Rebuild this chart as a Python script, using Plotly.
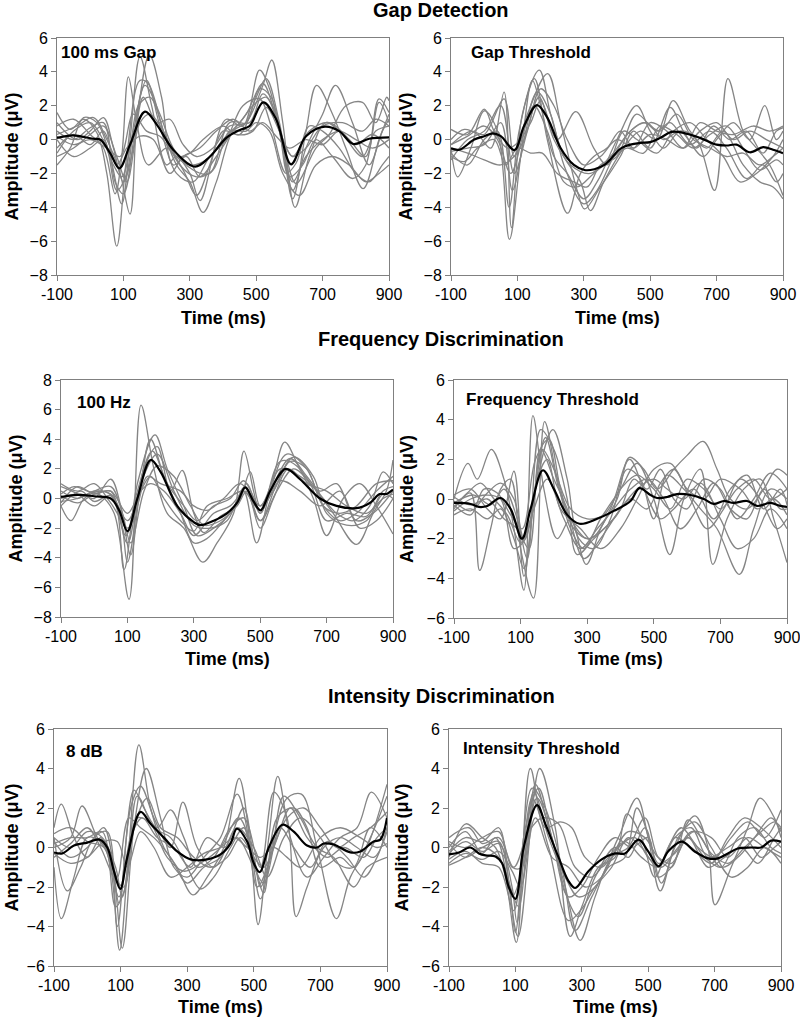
import plotly.graph_objects as go

# ---------------- DATA ----------------
TIME_TICKS = [-100, 100, 300, 500, 700, 900]

# Panel 1: Gap Detection, 100 ms Gap
gap100_mean_t = [-100, -52, 8, 30, 60, 88, 120, 165, 200, 250, 316, 361, 410, 451, 480, 521, 560, 605, 650, 707, 750, 792, 840, 900]
gap100_mean_v = [0.1, 0.25, 0.05, 0.0, -0.8, -1.7, -0.3, 1.65, 0.9, -0.6, -1.6, -1.0, 0.1, 0.57, 0.8, 2.2, 1.2, -1.46, 0.2, 0.76, 0.5, -0.26, 0.05, 0.13]
gap100_grey_t = [
    [-100, -60, -20, 20, 50, 80, 110, 150, 175, 220, 260, 300, 340, 380, 430, 470, 520, 547, 580, 617, 660, 710, 760, 820, 860, 900],
    [-100, -50, 0, 40, 75, 95, 115, 140, 175, 230, 280, 320, 360, 410, 460, 510, 540, 580, 610, 650, 682, 730, 770, 822, 870, 900],
    [-100, -60, -20, 20, 60, 95, 120, 150, 185, 230, 260, 300, 331, 400, 450, 500, 530, 570, 610, 650, 700, 739, 790, 840, 880, 900],
    [-100, -50, 0, 40, 75, 100, 135, 178, 215, 250, 290, 330, 380, 430, 470, 520, 550, 590, 620, 680, 720, 770, 820, 860, 893, 900],
    [-100, -50, 0, 30, 70, 95, 130, 165, 210, 250, 310, 360, 420, 480, 520, 560, 600, 640, 680, 730, 790, 830, 870, 900],
    [-100, -40, 10, 50, 90, 120, 145, 170, 210, 260, 310, 360, 410, 460, 510, 545, 590, 620, 660, 700, 750, 800, 840, 880, 900],
    [-100, -50, 0, 50, 90, 130, 170, 210, 260, 300, 340, 400, 440, 490, 530, 570, 610, 650, 700, 760, 820, 860, 900],
    [-100, -50, 0, 40, 80, 110, 150, 190, 240, 280, 330, 380, 430, 480, 520, 560, 600, 650, 700, 750, 800, 850, 900],
    [-100, -40, 0, 40, 70, 100, 130, 160, 200, 240, 280, 320, 370, 420, 470, 510, 545, 580, 610, 660, 720, 780, 830, 870, 900],
    [-100, -50, 0, 40, 80, 110, 145, 180, 230, 270, 320, 370, 420, 470, 500, 540, 580, 630, 680, 730, 780, 830, 870, 900],
    [-100, -50, 0, 40, 80, 110, 150, 180, 220, 260, 300, 350, 400, 450, 490, 530, 570, 610, 650, 700, 750, 800, 850, 900],
]
gap100_grey_v = [
    [1.6, 0.6, 1.2, 0.4, -2.0, -6.3, -1.0, 3.5, 3.3, 0.5, -1.5, -2.5, -4.3, -2.5, 0.5, 1.0, 3.2, 4.7, 1.0, -4.0, -1.0, 1.0, 0.3, -1.0, 0.5, 0.8],
    [0.8, 1.2, 0.3, -0.5, -3.2, -1.0, 3.7, 1.0, -1.5, -0.5, -1.8, -3.3, -1.5, 1.2, 0.8, 4.1, 3.0, -0.5, -3.5, 0.5, 3.2, 1.5, -0.5, -2.9, 0.0, 1.5],
    [-1.5, -0.5, 1.3, 1.0, -1.0, -3.8, 0.0, 4.9, 2.0, -1.5, -1.0, -2.0, -3.6, 0.5, 0.3, 2.5, 3.6, 1.0, -3.0, -0.5, 1.5, 3.2, 1.0, -1.5, 0.5, 1.2],
    [0.5, 0.0, 0.7, 1.0, -2.5, -3.2, 0.5, 5.0, 2.5, -1.5, -1.0, -2.2, -1.0, 0.5, 1.5, 3.3, 2.0, -1.0, -2.6, -0.5, 0.3, 2.0, 2.2, 1.0, 2.5, 2.3],
    [-0.8, 0.5, 1.0, 0.3, -1.5, -2.2, 0.5, 3.2, 1.5, -0.5, -1.8, -2.0, 1.0, 1.0, 2.7, 1.5, -2.2, -1.5, 0.0, -1.0, -2.3, -1.5, 2.4, 1.6],
    [0.3, 0.8, 1.3, 0.0, -2.0, -4.4, 2.0, 3.5, 0.8, -2.0, -2.5, -1.0, 0.0, 2.0, 2.4, 0.8, -2.0, -1.4, 0.8, 0.5, -0.5, -2.0, -2.5, -1.5, -1.0],
    [0.2, -0.3, 0.0, -0.5, -1.0, 1.5, 0.5, 0.2, -1.0, -0.8, 0.0, 0.8, 0.3, 0.5, 1.9, 0.5, -1.0, -0.5, 0.8, 1.0, 0.5, 1.2, 0.8],
    [-0.5, 0.3, -0.3, 0.5, -1.5, -0.5, 0.2, 0.0, -2.0, -1.0, -0.5, 0.5, 1.2, 0.5, 1.0, 0.2, -0.5, 0.0, -0.3, 0.5, -0.3, 0.3, -0.5],
    [1.0, 0.0, 0.5, 1.3, -0.5, -2.5, -0.5, 2.5, 1.0, 1.2, -0.3, -1.0, -0.5, 0.8, 1.0, 3.0, 2.5, 0.0, -1.0, 0.5, 1.0, 0.0, -1.0, 2.2, 1.0],
    [0.0, -1.0, -0.5, 0.0, -3.0, -2.0, 2.0, 2.5, 0.0, -1.5, -2.2, -1.8, 0.5, 0.5, 1.0, 0.5, -2.0, -3.3, -1.5, -1.0, -1.5, -2.5, -2.0, -1.5],
    [-1.0, -0.5, 0.3, 0.8, -1.0, -2.5, 1.0, 1.5, 0.5, -1.0, -1.5, -1.2, 0.0, 1.0, 2.0, 2.5, 0.5, -2.5, -1.0, 0.0, 0.5, 0.0, -0.5, 0.0],
]

# Panel 2: Gap Detection, Gap Threshold
gapthr_mean_t = [-100, -75, -30, 0, 26, 50, 91, 120, 159, 190, 230, 270, 302, 332, 362, 412, 440, 470, 500, 530, 564, 600, 650, 700, 730, 760, 800, 840, 870, 900]
gapthr_mean_v = [-0.52, -0.6, 0.0, 0.2, 0.37, 0.2, -0.62, 0.8, 2.04, 1.3, -0.5, -1.5, -1.8, -1.75, -1.5, -0.52, -0.3, -0.2, -0.15, 0.1, 0.45, 0.4, 0.1, -0.3, -0.35, -0.3, -0.75, -0.45, -0.6, -0.8]
gapthr_grey_t = [
    [-100, -80, -40, 0, 40, 76, 110, 145, 170, 210, 250, 300, 340, 400, 459, 500, 540, 590, 640, 694, 734, 780, 820, 860, 900],
    [-100, -60, -20, 20, 60, 82, 115, 166, 200, 240, 290, 320, 360, 420, 470, 520, 569, 620, 670, 720, 780, 830, 870, 900],
    [-100, -50, 0, 40, 75, 105, 151, 190, 251, 290, 330, 370, 410, 450, 500, 550, 600, 650, 700, 750, 800, 850, 900],
    [-100, -40, 0, 60, 90, 130, 191, 230, 280, 302, 350, 410, 450, 500, 560, 600, 660, 700, 750, 800, 845, 880, 900],
    [-100, -50, 0, 30, 70, 100, 140, 170, 220, 276, 330, 370, 420, 460, 520, 570, 620, 670, 720, 770, 820, 870, 900],
    [-100, -50, 0, 50, 90, 120, 165, 210, 260, 320, 380, 440, 480, 530, 580, 630, 680, 730, 780, 830, 870, 900],
    [-100, -60, -20, 30, 65, 100, 140, 175, 220, 270, 310, 350, 400, 459, 520, 560, 620, 680, 730, 790, 840, 880, 900],
    [-100, -50, 0, 50, 90, 130, 170, 210, 250, 300, 350, 400, 450, 500, 550, 600, 650, 700, 750, 810, 860, 900],
    [-100, -50, 0, 40, 80, 120, 160, 200, 240, 300, 340, 390, 440, 490, 540, 590, 640, 690, 740, 790, 840, 880, 900],
    [-100, -50, 0, 50, 85, 120, 150, 190, 240, 280, 330, 380, 430, 480, 530, 580, 630, 680, 730, 780, 830, 880, 900],
]
gapthr_grey_v = [
    [-0.5, -2.2, -0.5, 1.7, 0.5, -5.9, -1.0, 3.5, 2.0, -1.0, -2.0, -3.5, -2.5, 0.0, 2.0, 0.5, -0.5, 0.5, 0.0, -3.0, 3.6, 0.5, -0.5, -1.5, -3.3],
    [0.0, 0.6, 0.3, -0.5, 2.8, -5.2, 1.5, 4.1, 1.5, -1.0, -2.5, -4.2, -2.5, -0.5, 0.5, 0.0, 2.3, 0.5, -0.5, 0.5, -1.5, -2.5, -2.8, -3.5],
    [-0.8, -1.5, 0.0, 0.5, -4.0, 0.5, 3.6, 0.0, -4.35, -2.0, -1.0, -0.5, 0.5, -0.5, 1.0, 0.5, -0.5, 0.5, 1.0, 0.0, 0.5, 0.0, -0.5],
    [-0.3, 0.5, 0.3, 2.4, -1.0, 1.5, 3.9, 1.0, -3.0, -4.1, -2.8, -1.0, 0.5, -0.5, 1.9, 0.5, -1.0, 0.0, 1.0, 0.0, 2.0, 0.0, 0.5],
    [0.6, 0.3, 1.8, 0.5, -0.5, -0.2, 1.0, 2.3, 0.0, 1.65, -0.5, -1.5, 0.5, 0.0, -0.8, 0.5, 1.0, 0.0, -1.0, -2.5, -2.0, -1.0, 0.0],
    [-0.5, -0.8, -1.2, -1.5, -1.0, 0.0, 2.5, 0.0, -1.5, -2.0, -1.0, 0.5, 1.0, 0.5, 1.5, 0.0, -0.5, -1.0, -0.8, -1.5, -1.0, -0.5],
    [-1.0, -1.3, -0.5, 0.0, -1.5, -0.5, -0.8, -0.8, -2.0, -2.5, -2.8, -1.5, -1.0, 1.5, 0.5, 1.0, -0.3, 0.5, -0.5, -2.3, -1.5, -2.5, -2.0],
    [-1.2, 0.0, 0.5, 2.0, -2.0, 0.5, 3.0, 2.0, 0.0, -1.5, -1.0, 0.0, -0.5, 0.3, 0.0, -0.5, 1.0, 0.5, 0.3, 0.8, 0.5, 0.8],
    [-0.3, 0.2, 0.8, 0.0, -2.0, 0.5, 2.8, 1.5, -1.5, -3.8, -3.0, -1.0, 0.5, 1.0, 0.0, 0.5, -0.5, 0.8, 0.0, 0.5, -0.8, 0.5, 0.7],
    [-0.7, -0.5, -0.3, 1.0, -3.0, 0.0, 2.0, 0.5, -2.5, -2.8, -2.0, -1.2, -0.5, -0.8, 0.8, 0.3, -0.5, 0.3, 0.8, -0.5, -1.8, -1.2, -1.5],
]

# Panel 3: Frequency Discrimination, 100 Hz
f100_mean_t = [-100, -50, 0, 50, 75, 100, 130, 170, 200, 250, 300, 320, 360, 400, 430, 455, 480, 501, 530, 577, 620, 680, 730, 790, 830, 860, 880, 900]
f100_mean_v = [0.1, 0.25, 0.15, 0.0, -0.8, -2.2, 0.0, 2.6, 1.8, -0.5, -1.6, -1.8, -1.5, -1.0, -0.3, 0.75, -0.2, -0.8, 0.5, 2.0, 1.3, 0.0, -0.5, -0.65, -0.3, 0.3, 0.3, 0.6]
f100_grey_t = [
    [-100, -60, -20, 20, 60, 105, 141, 180, 220, 270, 327, 370, 420, 451, 480, 500, 540, 574, 620, 670, 720, 790, 840, 880, 900],
    [-100, -70, -30, 20, 60, 90, 130, 183, 220, 270, 310, 360, 410, 450, 489, 530, 580, 640, 690, 740, 790, 850, 900],
    [-100, -50, 0, 40, 80, 100, 140, 170, 210, 260, 300, 340, 390, 440, 470, 500, 540, 590, 640, 690, 730, 780, 830, 870, 900],
    [-100, -40, 0, 50, 80, 110, 150, 190, 230, 265, 300, 330, 380, 430, 460, 500, 560, 610, 660, 700, 750, 800, 850, 900],
    [-100, -50, 0, 50, 95, 130, 175, 220, 270, 310, 360, 410, 450, 500, 560, 620, 680, 730, 790, 840, 900],
    [-100, -50, 0, 50, 100, 140, 170, 210, 260, 300, 340, 400, 450, 500, 560, 620, 680, 740, 800, 850, 900],
    [-100, -50, 0, 50, 100, 140, 170, 210, 260, 300, 360, 410, 455, 500, 550, 600, 650, 700, 760, 820, 870, 900],
    [-100, -40, 0, 50, 100, 130, 160, 200, 260, 300, 340, 390, 440, 500, 540, 590, 640, 690, 740, 790, 850, 900],
    [-100, -50, 0, 50, 100, 140, 190, 240, 300, 350, 400, 455, 500, 550, 600, 660, 700, 760, 820, 870, 900],
    [-100, -50, 0, 50, 85, 110, 150, 190, 240, 290, 330, 380, 430, 460, 500, 540, 585, 640, 700, 760, 820, 870, 900],
]
f100_grey_v = [
    [0.3, 0.8, 0.5, 0.2, -1.0, -6.8, 6.3, 2.0, -1.0, -2.0, -4.3, -3.0, -1.0, 3.2, 0.5, -1.0, 1.5, 3.8, 2.0, 0.5, -1.0, -3.1, -1.0, 0.5, 2.6],
    [-0.5, -1.5, 0.0, 0.5, 0.0, -4.8, 1.0, 4.3, 2.0, -0.5, -2.5, -2.0, -1.0, 0.5, -3.0, 0.5, 3.0, 2.0, -0.5, -1.5, -1.0, 0.5, 1.5],
    [1.0, 0.5, 1.0, 0.0, -1.5, -4.3, 1.0, 4.0, 1.5, -1.0, -3.0, -2.7, -1.5, 0.0, 1.8, -0.5, 1.0, 2.7, 1.5, 0.0, -1.0, -1.5, -0.5, 1.8, 1.0],
    [0.0, 0.3, 0.0, 1.3, -0.5, -3.8, 2.0, 3.5, 0.5, 1.9, -1.0, -2.3, -1.2, -0.5, 1.0, -1.0, 2.5, 2.2, 0.0, -2.5, 0.0, 1.0, -0.5, -2.4],
    [-0.3, 0.8, 0.3, 0.5, -2.5, 0.5, 3.2, 1.0, -0.5, -1.5, -0.5, 0.0, 1.2, -0.5, 2.0, 1.5, 0.5, 1.0, -1.5, -1.0, 0.5],
    [0.5, 0.0, 0.5, 0.3, -1.5, 0.5, 1.5, 0.0, -1.5, -2.2, -0.5, 0.0, 0.5, -0.8, 1.2, 0.5, -0.5, 0.5, -2.0, -1.5, 0.0],
    [0.2, -0.3, 0.3, 0.5, -1.0, 0.5, 1.0, 0.5, -1.0, -2.5, -1.0, -0.5, 0.5, -1.5, 0.5, 2.0, 1.0, -1.5, -1.0, -1.2, 0.5, 0.8],
    [-0.5, 0.5, -0.2, 0.2, -2.0, -0.5, 1.5, 1.0, 0.5, -0.5, -0.8, 0.0, 1.0, -0.5, 0.5, 2.5, 2.0, -0.5, -1.0, -0.5, 1.0, 1.2],
    [0.8, 0.3, -0.5, 0.2, -3.0, 1.0, 3.0, 0.5, -1.8, -2.0, -1.5, 0.8, -1.5, 1.0, 2.8, 1.5, -1.0, -1.8, -1.5, 0.3, 0.0],
    [-0.2, 0.0, 0.5, 0.8, -1.0, -3.0, 0.5, 2.2, 1.5, -0.5, -1.8, -1.5, -0.5, 0.5, -2.0, 0.0, 2.0, 1.0, 0.5, -0.5, -1.0, 0.0, 0.3],
]

# Panel 4: Frequency Discrimination, Frequency Threshold
fthr_mean_t = [-100, -50, -25, 0, 40, 70, 104, 130, 167, 200, 240, 277, 330, 380, 430, 457, 490, 510, 540, 570, 610, 650, 680, 710, 740, 780, 810, 850, 880, 900]
fthr_mean_v = [-0.2, -0.25, -0.4, -0.35, 0.05, -0.5, -2.0, -0.5, 1.45, 0.5, -0.8, -1.25, -1.0, -0.6, -0.1, 0.55, 0.2, 0.05, 0.1, 0.25, 0.2, 0.0, -0.25, -0.1, -0.2, -0.1, -0.35, -0.2, -0.35, -0.4]
fthr_grey_t = [
    [-100, -58, -30, 12, 50, 80, 110, 137, 170, 210, 250, 297, 340, 390, 427, 470, 510, 560, 600, 648, 690, 730, 780, 830, 870, 900],
    [-100, -50, -23, 10, 40, 70, 100, 139, 172, 210, 250, 290, 340, 400, 450, 500, 548, 590, 640, 677, 720, 770, 820, 860, 900],
    [-100, -50, 0, 40, 80, 110, 150, 197, 240, 275, 320, 370, 420, 460, 500, 540, 590, 640, 690, 757, 800, 850, 900],
    [-100, -50, 0, 40, 80, 110, 140, 175, 215, 250, 300, 350, 400, 440, 480, 520, 560, 600, 650, 700, 750, 800, 850, 900],
    [-100, -50, -10, 30, 70, 105, 145, 185, 220, 260, 310, 370, 427, 470, 520, 560, 620, 680, 730, 780, 830, 880, 900],
    [-100, -40, 10, 50, 90, 120, 160, 200, 240, 270, 320, 380, 430, 480, 520, 560, 610, 660, 710, 760, 820, 870, 900],
    [-100, -50, 0, 40, 80, 115, 150, 180, 220, 280, 340, 400, 450, 500, 550, 600, 650, 700, 760, 810, 860, 900],
    [-100, -50, 0, 50, 90, 125, 160, 200, 240, 290, 340, 400, 450, 500, 540, 590, 640, 700, 750, 800, 850, 900],
    [-100, -60, -20, 20, 60, 100, 130, 165, 200, 250, 300, 350, 400, 450, 500, 550, 600, 650, 700, 750, 800, 850, 900],
    [-100, -50, 0, 40, 80, 110, 140, 180, 230, 280, 330, 380, 430, 480, 530, 580, 630, 680, 730, 780, 830, 880, 900],
]
fthr_grey_v = [
    [0.0, 1.8, 1.0, 2.5, 1.0, -1.5, -4.6, 4.2, 0.5, -2.0, -1.0, -3.3, -1.5, 0.0, 2.1, 1.5, 0.5, 1.5, 2.2, 2.9, 1.5, 0.0, -0.5, 0.5, 1.5, 1.2],
    [-0.5, 0.3, -3.6, -1.5, 0.5, 1.0, -2.5, -5.0, 3.9, 1.0, -1.5, -2.5, -1.0, 0.5, 1.8, 0.0, -2.8, 0.0, 1.5, -3.3, -1.0, 0.5, 1.0, -1.0, -3.2],
    [0.2, 0.5, -0.5, -1.0, 1.4, -3.9, 1.0, 3.5, 1.0, -2.0, -2.5, -1.0, 1.5, 1.0, -1.0, 1.2, 0.5, -0.5, -1.5, -3.8, -1.5, 0.5, 0.0],
    [-0.8, -0.5, -1.0, -0.5, -2.0, -3.5, 0.0, 3.1, 0.5, -1.0, -2.0, -1.5, -0.5, 1.0, 0.5, 1.5, 0.0, -0.5, 1.0, 0.5, -1.0, 0.0, 1.3, 0.5],
    [-0.3, -0.8, 0.5, 0.3, -0.8, -1.5, 2.0, 3.0, 0.5, -1.5, -2.0, -0.5, 2.0, 0.5, -1.0, -0.5, 0.5, -1.0, 0.5, 1.2, -0.5, 0.5, -0.3],
    [-0.2, 0.2, -0.3, 0.5, -1.0, -3.0, 3.5, 2.5, 0.0, -2.8, -2.0, -1.0, 0.0, -0.5, 0.8, 1.5, 0.0, -1.5, -0.5, 1.0, 0.0, -1.5, -1.0],
    [-0.6, 0.0, 0.2, 0.0, -2.5, -2.0, 1.0, 2.0, -0.5, -1.5, -2.5, -1.5, 0.0, 1.5, 1.8, 0.5, 0.0, 1.0, 0.5, -0.5, 0.0, -0.8],
    [0.1, -0.3, 0.0, -1.0, -1.5, -2.5, 2.5, 1.0, -0.5, -3.0, -2.0, -0.5, 0.5, 1.0, 0.5, 0.0, 0.8, -1.0, -2.5, -2.0, -0.5, -1.5],
    [-0.4, 0.3, 0.8, 0.0, -0.8, -2.2, -1.0, 2.5, 1.5, -0.5, -1.0, -0.8, 0.5, 1.2, 0.5, -0.5, 1.0, 0.5, -0.5, 0.5, 1.0, 0.0, 0.5],
    [-0.1, -0.6, 0.3, 0.8, 0.0, -2.0, -0.5, 1.0, -1.0, -2.5, -1.5, -0.5, 0.5, 1.0, 0.0, -1.5, -0.5, 0.8, -0.5, -1.0, 0.5, -0.5, -0.5],
]

# Panel 5: Intensity Discrimination, 8 dB
i8_mean_t = [-100, -75, -40, 0, 37, 60, 80, 99, 120, 160, 190, 230, 270, 310, 360, 400, 430, 449, 480, 500, 518, 545, 586, 620, 660, 690, 710, 740, 790, 820, 860, 880, 900]
i8_mean_v = [-0.25, -0.3, 0.1, 0.25, 0.4, 0.0, -1.2, -2.1, -0.5, 1.8, 1.2, 0.5, -0.2, -0.6, -0.6, -0.35, 0.2, 0.95, 0.3, -0.8, -1.25, 0.0, 1.15, 0.8, 0.1, 0.0, 0.2, 0.15, -0.25, -0.2, 0.3, 0.4, 1.5]
i8_grey_t = [
    [-100, -78, -40, 0, 40, 70, 97, 125, 155, 190, 230, 270, 317, 360, 410, 456, 490, 513, 545, 572, 610, 660, 710, 760, 810, 853, 900],
    [-100, -78, -40, 0, 40, 75, 105, 140, 177, 220, 260, 300, 350, 400, 450, 490, 520, 560, 600, 643, 690, 748, 790, 840, 900],
    [-100, -60, -20, 20, 60, 90, 130, 160, 200, 250, 287, 330, 380, 430, 470, 500, 530, 570, 620, 660, 700, 760, 800, 850, 900],
    [-100, -50, -16, 30, 70, 95, 140, 170, 210, 250, 290, 330, 380, 430, 470, 520, 560, 600, 627, 660, 710, 760, 810, 860, 900],
    [-100, -50, 0, 40, 80, 110, 150, 200, 250, 300, 340, 380, 430, 470, 510, 550, 590, 640, 690, 740, 800, 840, 900],
    [-100, -50, 0, 50, 90, 125, 160, 200, 250, 300, 350, 400, 450, 500, 540, 590, 640, 700, 750, 800, 850, 900],
    [-100, -50, 0, 50, 95, 130, 165, 210, 260, 310, 360, 410, 450, 500, 530, 580, 620, 670, 720, 780, 830, 870, 900],
    [-100, -50, 0, 50, 90, 120, 160, 200, 250, 300, 350, 400, 440, 480, 520, 560, 600, 640, 700, 760, 820, 870, 900],
    [-100, -50, 0, 45, 85, 115, 150, 190, 240, 290, 340, 400, 455, 500, 520, 560, 600, 650, 700, 750, 800, 850, 900],
    [-100, -50, 0, 45, 85, 105, 140, 180, 220, 270, 320, 370, 420, 460, 500, 530, 570, 610, 660, 720, 770, 830, 870, 900],
]
i8_grey_v = [
    [1.0, 2.2, 0.5, -0.5, 0.5, -1.0, -5.2, 0.0, 5.2, 2.0, 0.0, -1.0, -2.4, -1.5, 0.0, 3.5, 0.0, -3.9, 0.5, 3.6, 0.5, -1.5, -0.5, 0.5, 1.0, 2.8, 1.5],
    [-1.0, -3.6, -1.5, 0.5, 0.3, -1.0, -5.1, 1.0, 4.0, 1.5, -1.0, -1.5, -0.5, 0.5, 2.7, 0.0, -2.6, 0.5, 2.5, 2.7, 0.0, -3.6, -1.5, 0.0, 3.2],
    [0.5, -2.2, -1.0, 0.5, 0.8, -4.0, 2.0, 3.1, 1.5, 0.0, 2.3, 0.0, -1.0, 0.5, 2.0, -0.5, -2.3, 1.5, 2.0, 1.0, -1.0, -0.5, -1.0, 0.5, 2.6],
    [0.0, 0.5, 2.1, 0.5, -0.5, -2.8, 2.9, 2.0, 1.0, 1.9, 0.5, -1.0, -0.5, 1.0, 1.5, -1.0, 2.8, 1.5, -3.5, -2.0, 0.0, 0.5, 0.0, -0.5, 0.8],
    [-0.5, 0.2, 1.0, 0.0, -1.5, -2.0, 2.6, 1.0, 0.5, -1.0, -2.1, -1.5, 0.0, 1.0, -2.0, -0.5, 2.6, 1.5, 0.0, -0.5, -2.0, -1.0, -0.5],
    [0.3, -0.5, 0.0, 1.0, -1.5, 1.5, 1.0, 0.5, -0.5, -1.8, -1.0, -0.5, 1.0, 0.0, -1.5, 0.5, 1.5, 0.5, -0.8, -1.0, 1.0, 0.0],
    [0.7, 1.0, 0.3, 0.0, -2.5, 0.5, 1.5, 0.5, 0.0, -1.0, 0.5, 0.0, 0.5, -1.0, -1.8, 1.0, 0.0, -1.0, 0.3, -0.5, -1.5, -0.5, 1.0],
    [-0.3, -0.8, -0.5, 0.3, 0.3, -1.0, 0.8, 0.0, -1.5, -1.0, -0.3, 0.0, 0.5, 0.0, -0.5, 0.0, -0.5, -1.0, 0.5, 1.0, 0.5, 0.0, 0.2],
    [0.2, 0.5, 0.5, 0.8, -3.0, -2.0, 1.5, 1.2, -0.5, -1.2, -0.8, 0.0, 1.5, -0.5, -2.0, 0.0, 1.5, 2.0, 1.0, 0.0, 0.5, 1.0, 1.8],
    [0.5, 0.0, 0.8, 0.5, -1.0, -2.5, 1.0, 2.5, 1.0, 0.5, -0.5, -1.0, -0.5, 0.5, -0.5, -1.0, 0.5, 2.0, 0.5, -0.5, 0.0, -0.5, 0.5, 1.0],
]

# Panel 6: Intensity Discrimination, Intensity Threshold
ithr_mean_t = [-100, -70, -36, -10, 10, 40, 60, 80, 100, 125, 165, 190, 230, 260, 280, 320, 360, 400, 430, 471, 500, 531, 560, 601, 640, 680, 710, 740, 770, 810, 840, 870, 900]
ithr_mean_v = [-0.35, -0.25, 0.0, -0.3, -0.4, -0.45, -0.8, -2.0, -2.6, 0.0, 2.15, 1.2, -0.5, -1.7, -2.05, -1.2, -0.6, -0.3, -0.3, 0.4, -0.2, -0.95, -0.2, 0.3, -0.2, -0.55, -0.55, -0.3, -0.05, 0.0, 0.0, 0.35, 0.3]
ithr_grey_t = [
    [-100, -49, 0, 40, 70, 103, 145, 190, 235, 270, 310, 360, 410, 466, 500, 536, 580, 641, 680, 701, 750, 800, 837, 880, 900],
    [-100, -50, 0, 40, 75, 108, 173, 220, 265, 300, 350, 400, 436, 480, 520, 560, 600, 650, 700, 750, 800, 850, 900],
    [-100, -50, 0, 50, 90, 120, 160, 200, 250, 295, 340, 390, 440, 490, 530, 570, 620, 660, 720, 770, 820, 870, 900],
    [-100, -50, 0, 50, 80, 100, 150, 190, 240, 280, 330, 380, 430, 466, 510, 540, 590, 640, 690, 750, 800, 850, 900],
    [-100, -50, 0, 50, 90, 105, 150, 200, 260, 300, 340, 390, 440, 480, 530, 580, 630, 680, 740, 790, 840, 880, 900],
    [-100, -50, 0, 50, 95, 130, 170, 210, 260, 300, 350, 400, 450, 500, 530, 570, 620, 680, 730, 780, 830, 880, 900],
    [-100, -40, 0, 50, 95, 140, 180, 230, 280, 330, 380, 430, 480, 530, 580, 630, 690, 740, 790, 840, 900],
    [-100, -50, 0, 50, 90, 115, 165, 210, 255, 290, 340, 400, 440, 490, 530, 580, 630, 690, 740, 800, 850, 900],
    [-100, -50, 0, 50, 85, 110, 155, 200, 250, 290, 340, 390, 440, 490, 530, 570, 620, 670, 720, 770, 820, 870, 900],
    [-100, -50, 0, 50, 90, 115, 160, 210, 260, 310, 360, 410, 460, 500, 540, 590, 640, 690, 740, 790, 840, 880, 900],
]
ithr_grey_v = [
    [-0.5, 1.2, 0.5, 0.0, -1.5, -4.8, 4.0, 1.0, 1.3, 1.0, -0.5, -1.0, 0.5, 2.5, 0.5, -2.2, 0.0, 1.6, 0.0, -2.9, -1.0, 1.0, 2.5, 1.5, 0.5],
    [0.0, 0.8, -0.3, 0.5, -1.5, -4.5, 4.0, 1.0, -4.5, -3.0, -1.0, -0.5, 1.7, 0.5, -1.5, 0.0, 1.0, 0.0, -0.5, 0.5, 1.3, 0.5, 1.9],
    [0.3, 0.0, 0.5, 0.8, -1.0, -1.0, 3.2, 1.0, -2.0, -4.7, -2.5, -0.5, 0.0, 1.5, -0.5, -1.0, 1.4, 0.5, -1.0, -0.5, 0.5, 1.5, 0.8],
    [-0.9, -0.5, 0.0, -0.5, -1.8, -4.3, 3.0, 2.0, -1.0, -4.2, -2.5, -1.0, -0.5, 2.0, 0.0, -1.8, 0.5, 1.3, 0.0, -1.5, -1.0, 0.0, -0.8],
    [-0.3, 0.3, -0.2, 0.2, -2.0, -3.8, 2.5, 0.0, -3.7, -3.1, -2.0, -1.0, 0.5, 0.0, -1.0, 0.5, 1.0, -0.5, 0.0, 0.5, -0.5, 0.0, 0.3],
    [-0.6, -0.2, -0.8, -1.0, -3.2, 1.0, 3.0, 0.5, -2.5, -2.0, -0.5, 0.5, 0.0, 0.5, -1.5, -1.0, 0.5, -1.0, -0.5, 0.0, -0.8, 0.5, 1.0],
    [0.5, 1.0, 0.2, 0.5, -1.0, 0.8, 1.5, 1.2, -1.0, -1.5, -0.5, 0.3, -0.5, -1.0, 0.5, 0.0, -0.8, 0.5, 1.5, 1.0, 0.0],
    [-0.2, 0.5, 0.3, 1.0, -2.5, -1.5, 2.5, 0.5, -2.5, -3.5, -1.5, 0.0, -0.5, 1.0, -0.8, -0.3, 0.8, 0.5, -0.5, 0.5, 0.0, -0.5],
    [0.2, -0.5, 0.0, 0.3, -2.0, -3.0, 2.8, 0.5, -1.5, -2.5, -2.0, -0.5, 0.8, 0.5, -0.5, -0.8, 0.5, -0.5, -1.0, 0.5, 1.0, 0.0, -0.3],
    [-0.8, -0.3, -0.6, -0.2, -1.2, -2.0, 1.5, -0.5, -1.0, -2.0, -1.5, 0.0, 0.5, -0.5, -1.0, 0.0, 0.8, -0.3, -0.8, 0.0, 0.8, 1.3, 1.0],
]

ROW_TITLES = ["Gap Detection", "Frequency Discrimination", "Intensity Discrimination"]
PANEL_LABELS = ["100 ms Gap", "Gap Threshold", "100 Hz", "Frequency Threshold", "8 dB", "Intensity Threshold"]
Y_RANGES = [(-8, 6), (-8, 6), (-8, 8), (-6, 6), (-6, 6), (-6, 6)]

# ---------------- LAYOUT (pixel geometry) ----------------
W, H = 800, 1017
def fx(x):
    return x / W
def fy(y):
    return 1 - y / H

# plot-area boxes: left, right, top, bottom (pixels)
BOXES = [(57, 389, 38, 275), (451, 783, 38, 275),
         (61, 393, 380, 617), (454, 787, 380, 618),
         (54, 387, 729, 966), (449, 781, 729, 966)]
LABEL_POS = [(59, 53), (469, 53), (75, 402), (464, 399), (64, 751), (461, 748)]
YTITLE_X = [12, 406, 15, 407, 11, 401]
XTITLE_Y = [318, 318, 659, 659, 1007, 1007]
ROW_TITLE_Y = [10, 339, 696]
ROW_TITLE_X = 441

panel_data = [
    (gap100_grey_t, gap100_grey_v, gap100_mean_t, gap100_mean_v),
    (gapthr_grey_t, gapthr_grey_v, gapthr_mean_t, gapthr_mean_v),
    (f100_grey_t, f100_grey_v, f100_mean_t, f100_mean_v),
    (fthr_grey_t, fthr_grey_v, fthr_mean_t, fthr_mean_v),
    (i8_grey_t, i8_grey_v, i8_mean_t, i8_mean_v),
    (ithr_grey_t, ithr_grey_v, ithr_mean_t, ithr_mean_v),
]

FONT = "Liberation Sans, Arial, sans-serif"
GREY = "#858585"
AXIS = "#808080"

fig = go.Figure()
layout = dict(
    template="none",
    width=W, height=H, margin=dict(l=0, r=0, t=0, b=0, pad=0, autoexpand=False),
    paper_bgcolor="white", plot_bgcolor="white", showlegend=False,
    font=dict(family=FONT, color="black", size=16),
)
annotations = []

for i, (gt, gv, mt, mv) in enumerate(panel_data):
    n = i + 1
    xa = "x" if n == 1 else f"x{n}"
    ya = "y" if n == 1 else f"y{n}"
    for t, v in zip(gt, gv):
        fig.add_trace(go.Scatter(x=t, y=v, mode="lines", xaxis=xa, yaxis=ya,
                                 line=dict(color=GREY, width=1.3, shape="spline", smoothing=1.0),
                                 hoverinfo="skip"))
    fig.add_trace(go.Scatter(x=mt, y=mv, mode="lines", xaxis=xa, yaxis=ya,
                             line=dict(color="black", width=2.2, shape="spline", smoothing=1.0)))
    l, r, t_, b = BOXES[i]
    y0, y1 = Y_RANGES[i]
    common = dict(showgrid=False, zeroline=False, showline=True, linecolor=AXIS, linewidth=1,
                  mirror=True, ticks="outside", ticklen=5, tickcolor=AXIS, automargin=False,
                  ticklabeloverflow="allow",
                  tickfont=dict(family=FONT, size=16, color="black"))
    layout["xaxis" if n == 1 else f"xaxis{n}"] = dict(
        domain=[fx(l), fx(r)], anchor=ya, range=[-100, 900],
        tickvals=TIME_TICKS, ticktext=[str(v) for v in TIME_TICKS], **common)
    layout["yaxis" if n == 1 else f"yaxis{n}"] = dict(
        domain=[fy(b), fy(t_)], anchor=xa, range=[y0, y1], dtick=2, tick0=0, **common)
    lx, ly = LABEL_POS[i]
    annotations.append(dict(text=f"<b>{PANEL_LABELS[i]}</b>", x=fx(lx), y=fy(ly), xref="paper", yref="paper",
                            xanchor="left", yanchor="middle", showarrow=False,
                            font=dict(family=FONT, size=17, color="black")))
    annotations.append(dict(text="<b>Time (ms)</b>", x=fx((l + r) / 2), y=fy(XTITLE_Y[i]), xref="paper", yref="paper",
                            xanchor="center", yanchor="middle", showarrow=False,
                            font=dict(family=FONT, size=18, color="black")))
    annotations.append(dict(text="<b>Amplitude (\u03bcV)</b>", x=fx(YTITLE_X[i]), y=fy((t_ + b) / 2), xref="paper", yref="paper",
                            xanchor="center", yanchor="middle", showarrow=False, textangle=-90,
                            font=dict(family=FONT, size=18, color="black")))

for k, title in enumerate(ROW_TITLES):
    annotations.append(dict(text=f"<b>{title}</b>", x=fx(ROW_TITLE_X), y=fy(ROW_TITLE_Y[k]), xref="paper", yref="paper",
                            xanchor="center", yanchor="middle", showarrow=False,
                            font=dict(family=FONT, size=20, color="black")))

layout["annotations"] = annotations
fig.update_layout(**layout)
fig.write_html("out.html", config={"displayModeBar": False},
               post_script="document.body.style.margin='0px';")
